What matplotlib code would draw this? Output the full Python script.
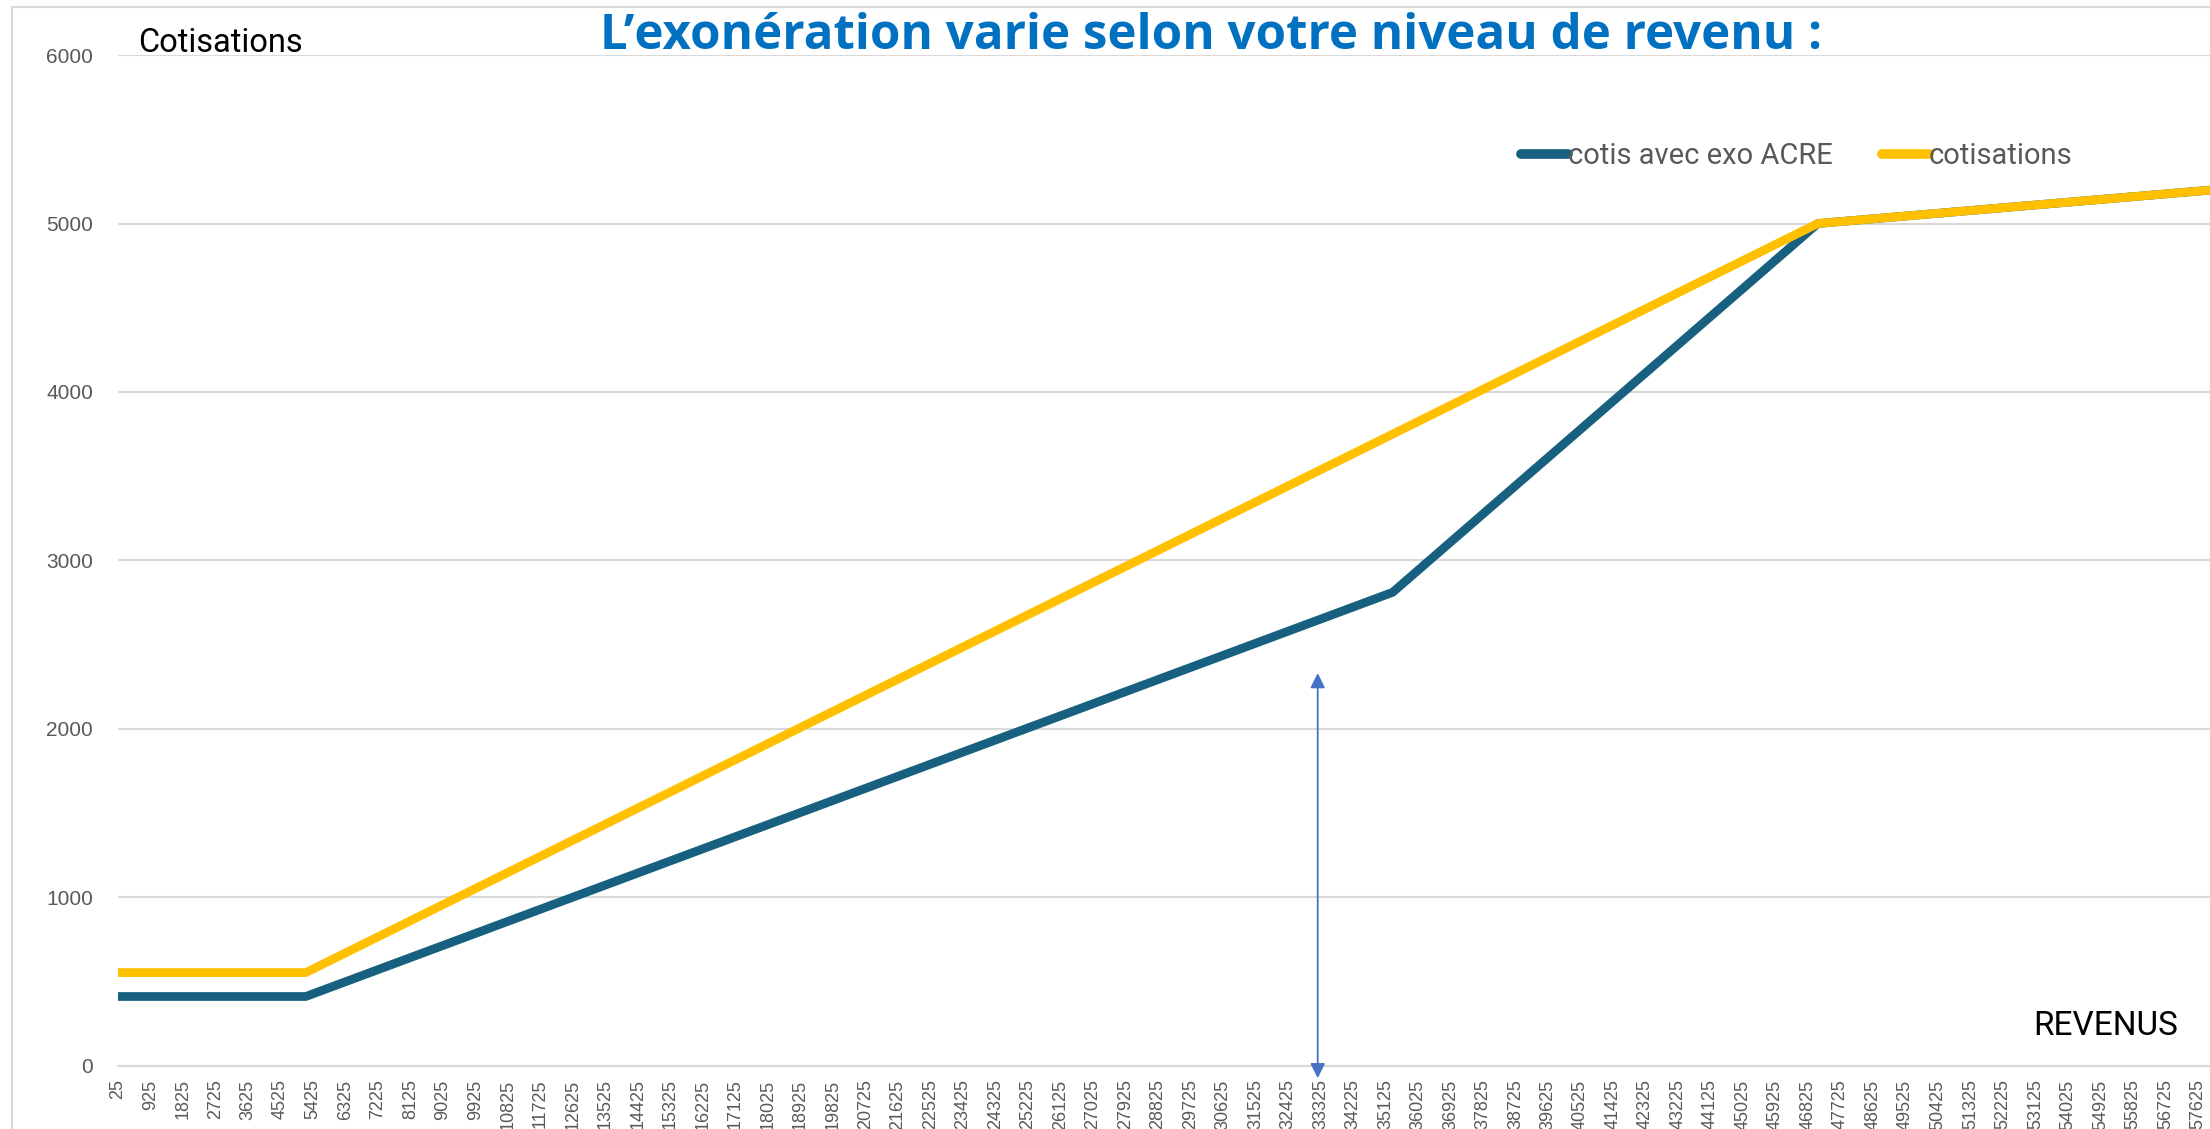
import numpy as np
import matplotlib.pyplot as plt
from matplotlib.patches import Rectangle

# breakpoints of the two series (revenue -> cotisations)
revenus_acre = [25, 5225, 35325, 47100, 58500]
cotis_acre = [410, 410, 2810, 5000, 5208]
revenus_cotis = [25, 5225, 47100, 58500]
cotis = [552, 552, 5000, 5208]

tick_revenus = list(range(25, 57626, 900))
y_ticks = [0, 1000, 2000, 3000, 4000, 5000, 6000]

arrow_x = 33250
arrow_y = (2330, -75)

BLUE = '#17607F'
GOLD = '#FFC000'
GRAY = '#595959'
GRID = '#D9D9D9'

fig = plt.figure(figsize=(22.10, 11.29), dpi=100)
ax = fig.add_axes([0.0534, 0.0562, 0.9554, 0.895])

ax.plot(revenus_acre, cotis_acre, color=BLUE, lw=6.3, solid_capstyle='butt',
        label='cotis avec exo ACRE')
ax.plot(revenus_cotis, cotis, color=GOLD, lw=6.3, solid_capstyle='butt',
        label='cotisations')

ax.set_xlim(25, 58500)
ax.set_ylim(0, 6000)
ax.set_yticks(y_ticks)
ax.set_xticks(tick_revenus)
ax.set_xticklabels([str(t) for t in tick_revenus], rotation=90,
                   family='Liberation Sans', fontsize=13, color=GRAY)
ax.set_yticklabels([str(t) for t in y_ticks], family='Liberation Sans',
                   fontsize=15, color=GRAY)
ax.tick_params(axis='both', length=0)
ax.tick_params(axis='x', pad=10)
ax.tick_params(axis='y', pad=18)

for s in ['top', 'right', 'left']:
    ax.spines[s].set_visible(False)
ax.spines['bottom'].set_color(GRID)
ax.spines['bottom'].set_linewidth(1.5)
ax.yaxis.grid(True, color=GRID, lw=1.5)
ax.set_axisbelow(True)

# double arrow
ax.annotate('', xy=(arrow_x, arrow_y[1]), xytext=(arrow_x, arrow_y[0]),
            annotation_clip=False,
            arrowprops=dict(arrowstyle='<|-|>', color='#4472C4', lw=1.3,
                            mutation_scale=22, shrinkA=0, shrinkB=0))

leg = ax.legend(loc='upper left', bbox_to_anchor=(0.652, 0.94), ncol=2,
                frameon=False, prop={'family': 'Roboto', 'size': 21},
                handlelength=1.6, handletextpad=0.0, columnspacing=1.7)
for t in leg.get_texts():
    t.set_color(GRAY)
for h in leg.get_lines():
    h.set_solid_capstyle('round')
    h.set_linewidth(7)

fig.text(0.548, 0.968, 'L\u2019exonération varie selon votre niveau de revenu :',
         ha='center', va='center', fontsize=35.5, fontweight='bold',
         family='Open Sans', color='#0070C0')
fig.text(0.0625, 0.962, 'Cotisations', ha='left', va='center',
         family='Roboto', fontsize=23.5, color='black')
fig.text(0.92, 0.091, 'REVENUS', ha='left', va='center',
         family='Roboto', fontsize=24, color='black')

fig.patches.append(Rectangle((0.0055, -0.1), 1.1, 1.1 - 0.0062,
                             transform=fig.transFigure, fill=False,
                             edgecolor=GRID, lw=1.5))

fig.savefig('out.png', dpi=100)
